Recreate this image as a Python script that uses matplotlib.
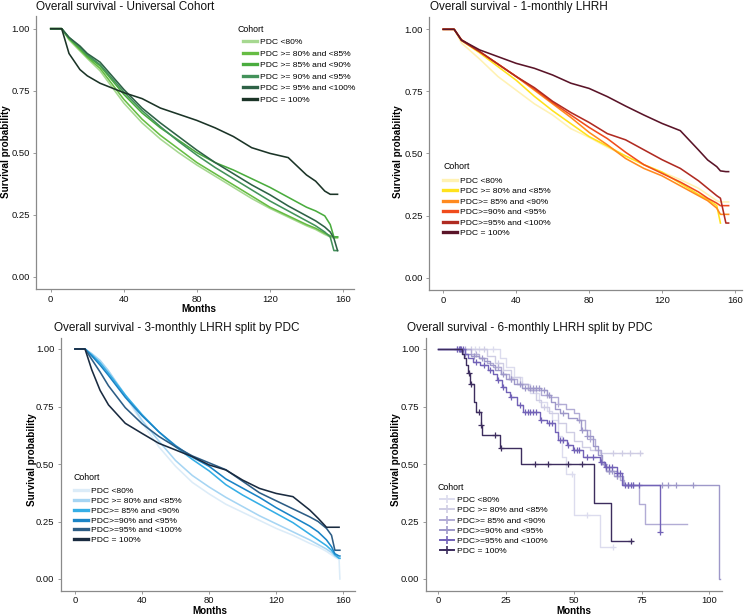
import numpy as np
import matplotlib
matplotlib.use("Agg")
import matplotlib.pyplot as plt
from matplotlib.lines import Line2D

plt.rcParams['font.family'] = ['Liberation Sans', 'DejaVu Sans']

# ---------------- data ----------------
cohorts_a = ["PDC <80%", "PDC >= 80% and <85%", "PDC >= 85% and <90%",
             "PDC >= 90% and <95%", "PDC >= 95% and <100%", "PDC = 100%"]
cohorts_b = ["PDC <80%", "PDC >= 80% and <85%", "PDC>= 85% and <90%",
             "PDC>=90% and <95%", "PDC>=95% and <100%", "PDC = 100%"]

# Panel 1: Universal cohort
p1_months = [0, 6, 10, 16, 20, 27, 40, 50, 60, 70, 80, 90, 100, 110, 120, 130, 140, 145, 150, 153, 155, 157]
p1_lt80 = [1, 1, .955, .91, .88, .83, .70, .62, .555, .50, .45, .405, .36, .315, .275, .24, .205, .19, .17, .16, .155, .155]
p1_80 = [1, 1, .96, .915, .885, .84, .715, .635, .57, .515, .46, .415, .37, .325, .28, .245, .21, .195, .175, .165, .16, .16]
p1_85 = [1, 1, .96, .92, .89, .85, .735, .66, .60, .55, .50, .46, .43, .395, .36, .32, .28, .265, .245, .21, .16, .16]
p1_90 = [1, 1, .965, .925, .895, .855, .745, .67, .605, .545, .49, .44, .395, .35, .305, .265, .225, .205, .18, .16, .105, .105]
p1_95 = [1, 1, .965, .93, .90, .865, .755, .68, .62, .565, .51, .46, .415, .37, .33, .285, .245, .225, .20, .18, .155, .105]
p1_100 = [1, 1, .90, .835, .81, .78, .742, .718, .68, .655, .63, .60, .565, .52, .497, .48, .41, .385, .345, .332, .332, .332]

# Panel 2: 1-monthly LHRH
p2_months = [0, 6, 10, 20, 30, 40, 50, 60, 70, 80, 90, 100, 110, 120, 130, 140, 145, 150, 152, 155, 156.5]
p2_lt80 = [1, 1, .945, .88, .81, .755, .70, .655, .60, .565, .525, .49, .455, .425, .395, .36, .335, .31, .305, .305, .305]
p2_80 = [1, 1, .955, .905, .85, .795, .73, .672, .62, .568, .53, .49, .455, .425, .38, .335, .315, .29, .22, np.nan, np.nan]
p2_85 = [1, 1, .958, .91, .86, .81, .755, .70, .645, .585, .535, .48, .44, .41, .37, .33, .31, .28, .255, .255, .255]
p2_90 = [1, 1, .958, .91, .86, .81, .76, .705, .655, .605, .56, .505, .455, .42, .385, .345, .32, .30, .29, .29, .29]
p2_95 = [1, 1, .955, .91, .86, .81, .765, .71, .665, .625, .58, .555, .515, .475, .44, .39, .36, .33, .32, .22, .22]
p2_100 = [1, 1, .957, .917, .89, .863, .843, .816, .783, .762, .729, .691, .655, .621, .592, .514, .474, .447, .43, .427, .427]

# Panel 3: 3-monthly LHRH
p3_months = [0, 6, 10, 15, 20, 30, 40, 50, 60, 70, 80, 90, 100, 110, 120, 130, 140, 145, 150, 153, 155, 157.5, 158]
p3_lt80 = [1, 1, .98, .95, .905, .795, .68, .575, .49, .42, .37, .325, .29, .255, .22, .19, .155, .14, .12, .105, .095, .085, 0.0]
p3_80 = [1, 1, .98, .95, .905, .80, .69, .60, .515, .45, .40, .355, .315, .275, .24, .205, .17, .15, .13, .115, .10, .09, .09]
p3_85 = [1, 1, .975, .94, .895, .80, .715, .64, .575, .52, .47, .41, .365, .325, .285, .245, .195, .17, .145, .125, .105, .09, .09]
p3_90 = [1, 1, .97, .93, .885, .79, .71, .64, .58, .53, .49, .435, .395, .355, .31, .27, .23, .205, .17, .14, .11, .10, .10]
p3_95 = [1, 1, .955, .90, .84, .745, .675, .62, .575, .535, .505, .475, .425, .375, .34, .305, .27, .25, .22, .19, .125, .125, .125]
p3_100 = [1, 1, .91, .82, .757, .677, .633, .59, .561, .532, .496, .474, .43, .394, .372, .358, .30, .264, .225, .225, .225, .225, np.nan]

# Panel 4: 6-monthly LHRH (Kaplan-Meier steps + censoring times)
p4_lt80_t = [0, 22.8, 25, 28, 31, 34, 37, 40, 42, 44, 45.5, 47, 50, 59.7, 64.6]
p4_lt80_s = [1, .96, .92, .88, .85, .81, .77, .73, .69, .62, .53, .455, .278, .138, .138]
p4_lt80_c = [13.5, 15, 20, 49.4, 54.8, 64.6]

p4_80_t = [0, 18, 21, 24, 27, 30, 33, 36, 38, 41, 44, 47, 50, 53, 56, 59.6, 75]
p4_80_s = [1, .97, .94, .91, .88, .85, .82, .78, .75, .72, .68, .64, .60, .575, .56, .549, .549]
p4_80_c = [12, 17, 22, 31, 39, 64.3, 67.7, 70.7, 74.4]

p4_85_t = [0, 12, 15, 18, 20, 23, 26, 29, 33, 38, 41, 44, 47, 50, 52, 54, 56, 58, 60, 62, 65, 67, 68.5, 74.2, 76.3, 91.9]
p4_85_s = [1, .98, .96, .94, .92, .89, .87, .85, .82, .80, .79, .76, .74, .72, .69, .65, .61, .56, .50, .47, .45, .43, .41, .325, .239, .239]
p4_85_c = [7, 10, 14, 22, 27, 35, 40, 44, 52, 56, 63, 66, 70]

p4_90_t = [0, 9, 12, 15, 17, 19, 21, 23, 25, 28, 31, 38, 40, 41.5, 43, 45, 48, 51, 52.5, 55, 57, 59, 60.5, 62, 66, 68, 103.7, 103.8]
p4_90_s = [1, .98, .97, .96, .95, .93, .91, .89, .87, .85, .83, .82, .80, .77, .74, .72, .70, .69, .65, .62, .58, .54, .50, .47, .45, .41, 0.0, 0.0]
p4_90_c = [8, 10, 13, 16, 24, 27, 30, 32, 34, 35, 36, 37, 39, 41, 46, 53, 55, 61, 63, 64, 66, 70, 72, 82.4, 84.8, 87.7, 94]

p4_95_t = [0, 9.8, 11, 12.9, 15.4, 18.5, 20, 21.5, 23.4, 25, 26.5, 28.9, 31.4, 37.5, 40, 43, 44.3, 47.4, 49.8, 53.5, 59.7, 61.5, 65.8, 67.7, 81.8]
p4_95_s = [1, .98, .96, .945, .93, .909, .89, .865, .836, .815, .793, .757, .727, .691, .677, .64, .604, .583, .561, .529, .51, .488, .459, .409, .206]
p4_95_c = [7, 7.5, 8, 8.5, 9, 14, 17, 19, 22, 24, 27, 30, 32, 33, 34, 35, 36, 38, 41, 42, 45, 46, 48, 50, 51, 52,
           55, 57, 60, 62, 63, 64, 66, 67, 69, 70, 71, 72, 74, 81.8]

p4_100_t = [0, 8.6, 9.5, 10.2, 10.8, 11.8, 13.3, 14.0, 15.6, 16.0, 22.8, 30.4, 57.4, 63.6, 71.4]
p4_100_s = [1, .98, .96, .93, .894, .85, .77, .727, .67, .626, .568, .50, .332, .167, .167]
p4_100_c = [11.3, 12.0, 15.1, 15.9, 20.9, 23.0, 35.7, 40.6, 48.0, 52.9, 71.0]

# ---------------- style ----------------
greens = ['#a6d890', '#66bc43', '#4aac3e', '#43925a', '#2e6246', '#1b3427']
oranges = ['#fff2b3', '#ffe21c', '#ff8a1f', '#f04c1c', '#b02b22', '#5a1428']
blues = ['#dcecf8', '#a6d5f3', '#35aee6', '#1a84c6', '#2d5d85', '#1a2b40']
purples = ['#dcdcee', '#cfcde4', '#b2acd5', '#9e98c9', '#7262b7', '#3d2d5e']

W, H = 750, 615
fig = plt.figure(figsize=(W / 100, H / 100), dpi=100)
AX_GRAY = '#8a8a8a'


def axes_px(left, right, top, bottom):
    return fig.add_axes([left / W, 1 - bottom / H, (right - left) / W, (bottom - top) / H])


def style(ax, xlim, xticks):
    ax.set_xlim(*xlim)
    ax.set_ylim(-0.05, 1.05)
    ax.set_xticks(xticks)
    ax.set_yticks([0, .25, .5, .75, 1.0])
    ax.set_yticklabels(['0.00', '0.25', '0.50', '0.75', '1.00'])
    for s in ['top', 'right']:
        ax.spines[s].set_visible(False)
    for s in ['left', 'bottom']:
        ax.spines[s].set_color(AX_GRAY)
        ax.spines[s].set_linewidth(0.9)
    ax.tick_params(axis='both', colors=AX_GRAY, length=2.5, width=0.6, labelsize=6.8,
                   labelcolor='#111111', pad=2)
    ax.tick_params(axis='x', pad=1.5)
    ax.patch.set_alpha(0)


def legend(ax, handles, labels, hx, top, spacing):
    leg = ax.legend(handles, labels, loc='upper left', bbox_to_anchor=(hx / W, 1 - top / H),
                    bbox_transform=fig.transFigure, frameon=False, fontsize=6.1,
                    handlelength=1.68, handletextpad=0.36, labelspacing=spacing,
                    borderpad=0, borderaxespad=0, numpoints=1)
    return leg


def title_text(x, y, s):
    fig.text(x / W, 1 - y / H, s, fontsize=8.5, ha='left', va='center', color='#111111')


def xlabel_text(x, y):
    fig.text(x / W, 1 - y / H, 'Months', fontsize=7.1, fontweight='bold', ha='center', va='center')


def ylabel_text(x, y):
    fig.text(x / W, 1 - y / H, 'Survival probability', fontsize=7.1, fontweight='bold',
             ha='center', va='center', rotation=90)


def cohort_text(x, y):
    fig.text(x / W, 1 - y / H, 'Cohort', fontsize=6.3, ha='left', va='center')


# ---------------- panel 1 ----------------
ax1 = axes_px(36.3, 353.8, 16.3, 289)
style(ax1, (-7.9, 165.9), [0, 40, 80, 120, 160])
p1_series = [p1_lt80, p1_80, p1_85, p1_90, p1_95, p1_100]
h1 = []
for vals, c in zip(p1_series, greens):
    ax1.plot(p1_months, vals, color=c, lw=1.15)
    h1.append(Line2D([], [], color=c, lw=2.4))
legend(ax1, h1, cohorts_a, 243, 38.2, 0.42)
cohort_text(237, 30)
title_text(36, 7, 'Overall survival - Universal Cohort')
ylabel_text(6, 152)
xlabel_text(199, 309.5)

# ---------------- panel 2 ----------------
ax2 = axes_px(429, 742.3, 16.9, 290.1)
style(ax2, (-7.8, 164), [0, 40, 80, 120, 160])
p2_series = [p2_lt80, p2_80, p2_85, p2_90, p2_95, p2_100]
h2 = []
for vals, c in zip(p2_series, oranges):
    ax2.plot(p2_months, vals, color=c, lw=1.15)
    h2.append(Line2D([], [], color=c, lw=2.4))
legend(ax2, h2, cohorts_b, 443, 177, 0.30)
cohort_text(443, 167)
title_text(430, 7, 'Overall survival - 1-monthly LHRH')
ylabel_text(398, 152)

# ---------------- panel 3 ----------------
ax3 = axes_px(60.7, 355, 337.5, 590.5)
style(ax3, (-8.5, 167), [0, 40, 80, 120, 160])
p3_series = [p3_lt80, p3_80, p3_85, p3_90, p3_95, p3_100]
h3 = []
for vals, c in zip(p3_series, blues):
    ax3.plot(p3_months, vals, color=c, lw=1.15)
    h3.append(Line2D([], [], color=c, lw=2.4))
legend(ax3, h3, cohorts_b, 74, 487, 0.23)
cohort_text(73, 478)
title_text(54, 328, 'Overall survival - 3-monthly LHRH split by PDC')
ylabel_text(32, 460)
xlabel_text(210, 610.5)

# ---------------- panel 4 ----------------
ax4 = axes_px(425.6, 722.3, 337.5, 590.5)
style(ax4, (-4.7, 104.8), [0, 25, 50, 75, 100])
p4_series = [(p4_lt80_t, p4_lt80_s, p4_lt80_c), (p4_80_t, p4_80_s, p4_80_c),
             (p4_85_t, p4_85_s, p4_85_c), (p4_90_t, p4_90_s, p4_90_c),
             (p4_95_t, p4_95_s, p4_95_c), (p4_100_t, p4_100_s, p4_100_c)]
h4 = []
for (t, s, cens), c in zip(p4_series, purples):
    t = np.asarray(t, float)
    s = np.asarray(s, float)
    ax4.step(t, s, where='post', color=c, lw=1.0)
    cens = np.asarray(cens, float)
    idx = np.clip(np.searchsorted(t, cens, side='right') - 1, 0, len(s) - 1)
    ax4.plot(cens, s[idx], ls='none', marker='+', ms=5, mew=0.9, color=c)
    h4.append(Line2D([], [], color=c, lw=1.4, marker='+', ms=6, mew=1.2))
legend(ax4, h4, cohorts_b, 440, 496, 0.28)
cohort_text(437, 488)
title_text(407, 328, 'Overall survival - 6-monthly LHRH split by PDC')
ylabel_text(396, 460)
xlabel_text(574, 610.5)

fig.savefig('out.png', dpi=100)
